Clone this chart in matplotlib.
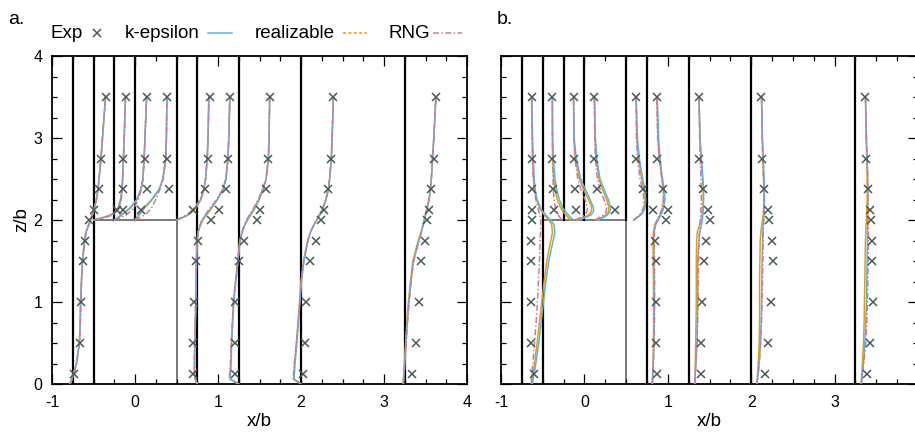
"""
Velocity profiles around a cube-like building: experiment vs three RANS closures
"""

import numpy as np
import matplotlib
matplotlib.use("Agg")
import matplotlib.pyplot as plt
from matplotlib.lines import Line2D
from matplotlib.ticker import MultipleLocator, FixedLocator


# DATA
# ──────────────────────────────────────────────────────────────
# profile stations x/b (same in both panels), and whether the profile sits on the roof
BASES = [-0.75, -0.5, -0.25, 0.0, 0.5, 0.75, 1.25, 2.0, 3.25]
ON_ROOF = [False, True, True, True, True, False, False, False, False]
LINE_FROM = [0, 0, 2, 2, 2, 0, 0, 0, 0]   # where the station line starts (z/b)

EXP_Z = [0.125, 0.5, 1.0, 1.5, 1.75, 2.0, 2.125, 2.375, 2.75, 3.5]
EXP_Z_ROOF = [2.125, 2.375, 2.75, 3.5]
CURVE_Z = [0, 0.06, 0.125, 0.25, 0.5, 0.75, 1.0, 1.25, 1.5, 1.75, 1.85, 1.95,
           2.0, 2.06, 2.125, 2.25, 2.375, 2.5, 2.75, 3.0, 3.5]
CURVE_Z_ROOF = [2.0, 2.03, 2.06, 2.1, 2.15, 2.25, 2.375, 2.5, 2.75, 3.0, 3.5]

X_TICKS_A = [-1, 0, 1, 2, 3, 4]
X_TICKS_B = [-1, 0, 1, 2, 3]     # the "4" of panel b falls off the picture

# values are offsets from the station line, one row per station
A_EXP = [
    [0.013, 0.093, 0.102, 0.121, 0.145, 0.193, 0.254, 0.322, 0.343, 0.395],
    [0.28, 0.35, 0.36, 0.389],
    [0.11, 0.396, 0.367, 0.39],
    [0.07, 0.41, 0.382, 0.382],
    [0.201, 0.341, 0.377, 0.398],
    [-0.048, -0.048, -0.041, -0.02, 0.007, 0.169, 0.26, 0.341, 0.373, 0.393],
    [-0.048, -0.048, -0.048, 0.0, 0.06, 0.22, 0.261, 0.333, 0.357, 0.373],
    [0.028, 0.048, 0.06, 0.11, 0.18, 0.24, 0.28, 0.33, 0.36, 0.39],
    [0.092, 0.133, 0.172, 0.2, 0.245, 0.272, 0.293, 0.32, 0.353, 0.38],
]
A_KEPS = [
    [-0.036, -0.010, 0.010, 0.045, 0.081, 0.090, 0.095, 0.105, 0.117, 0.142, 0.160,
     0.195, 0.214, 0.235, 0.255, 0.286, 0.305, 0.316, 0.340, 0.358, 0.395],
    [0.0, 0.12, 0.21, 0.27, 0.30, 0.33, 0.345, 0.35, 0.36, 0.37, 0.385],
    [0.0, 0.04, 0.08, 0.13, 0.19, 0.27, 0.32, 0.345, 0.36, 0.37, 0.39],
    [0.0, 0.02, 0.04, 0.07, 0.11, 0.20, 0.29, 0.335, 0.37, 0.378, 0.385],
    [0.0, 0.07, 0.13, 0.18, 0.23, 0.29, 0.33, 0.35, 0.37, 0.38, 0.39],
    [0.0, -0.020, -0.032, -0.032, -0.028, -0.022, -0.016, -0.012, -0.008, 0.0, 0.010,
     0.040, 0.060, 0.100, 0.150, 0.240, 0.310, 0.345, 0.370, 0.380, 0.393],
    [0.0, -0.100, -0.100, -0.092, -0.085, -0.072, -0.060, -0.035, -0.008, 0.015, 0.040,
     0.075, 0.100, 0.135, 0.175, 0.240, 0.290, 0.330, 0.357, 0.365, 0.373],
    [0.0, -0.084, -0.080, -0.072, -0.050, -0.030, -0.012, 0.005, 0.035, 0.085, 0.115,
     0.160, 0.190, 0.220, 0.255, 0.300, 0.330, 0.345, 0.365, 0.375, 0.390],
    [-0.016, -0.012, -0.008, 0.0, 0.015, 0.030, 0.050, 0.075, 0.105, 0.170, 0.200,
     0.225, 0.235, 0.250, 0.265, 0.293, 0.310, 0.320, 0.335, 0.350, 0.375],
]
A_REAL = [
    [-0.036, -0.012, 0.008, 0.043, 0.079, 0.089, 0.094, 0.104, 0.116, 0.140, 0.158,
     0.192, 0.212, 0.233, 0.254, 0.285, 0.304, 0.316, 0.340, 0.358, 0.395],
    [0.0, 0.11, 0.20, 0.26, 0.295, 0.325, 0.342, 0.35, 0.36, 0.37, 0.385],
    [0.0, 0.05, 0.09, 0.14, 0.20, 0.275, 0.322, 0.345, 0.36, 0.37, 0.39],
    [0.0, 0.03, 0.05, 0.08, 0.12, 0.21, 0.295, 0.337, 0.37, 0.378, 0.385],
    [0.0, 0.08, 0.14, 0.19, 0.24, 0.295, 0.332, 0.35, 0.37, 0.38, 0.39],
    [0.0, -0.022, -0.034, -0.034, -0.030, -0.024, -0.018, -0.014, -0.010, -0.002, 0.008,
     0.045, 0.068, 0.110, 0.160, 0.245, 0.312, 0.346, 0.370, 0.380, 0.393],
    [0.0, -0.104, -0.104, -0.096, -0.088, -0.076, -0.064, -0.040, -0.012, 0.012, 0.040,
     0.080, 0.108, 0.145, 0.185, 0.248, 0.294, 0.331, 0.357, 0.365, 0.373],
    [0.0, -0.090, -0.086, -0.078, -0.056, -0.036, -0.018, 0.0, 0.030, 0.080, 0.112,
     0.160, 0.192, 0.225, 0.260, 0.303, 0.331, 0.345, 0.365, 0.375, 0.390],
    [-0.020, -0.016, -0.012, -0.004, 0.010, 0.025, 0.044, 0.068, 0.098, 0.162, 0.195,
     0.222, 0.233, 0.249, 0.264, 0.292, 0.309, 0.320, 0.335, 0.350, 0.375],
]
A_RNG = [
    [-0.036, -0.008, 0.012, 0.047, 0.083, 0.092, 0.097, 0.107, 0.120, 0.146, 0.165,
     0.200, 0.218, 0.238, 0.257, 0.287, 0.305, 0.317, 0.341, 0.358, 0.395],
    [0.0, 0.14, 0.23, 0.28, 0.31, 0.335, 0.347, 0.352, 0.36, 0.37, 0.385],
    [0.0, 0.08, 0.14, 0.19, 0.24, 0.29, 0.327, 0.347, 0.36, 0.37, 0.39],
    [0.0, 0.06, 0.11, 0.16, 0.20, 0.25, 0.30, 0.34, 0.37, 0.378, 0.385],
    [0.0, 0.06, 0.12, 0.17, 0.22, 0.285, 0.328, 0.35, 0.37, 0.38, 0.39],
    [0.0, -0.026, -0.036, -0.036, -0.032, -0.026, -0.020, -0.016, -0.010, 0.0, 0.012,
     0.038, 0.055, 0.092, 0.140, 0.235, 0.306, 0.344, 0.370, 0.380, 0.393],
    [0.0, -0.112, -0.110, -0.100, -0.090, -0.078, -0.065, -0.040, -0.010, 0.015, 0.038,
     0.070, 0.094, 0.128, 0.168, 0.235, 0.287, 0.329, 0.357, 0.365, 0.373],
    [0.0, -0.095, -0.090, -0.080, -0.055, -0.034, -0.015, 0.003, 0.034, 0.083, 0.113,
     0.158, 0.188, 0.218, 0.252, 0.298, 0.329, 0.344, 0.365, 0.375, 0.390],
    [-0.016, -0.012, -0.008, 0.002, 0.018, 0.034, 0.054, 0.078, 0.108, 0.172, 0.202,
     0.226, 0.236, 0.251, 0.266, 0.294, 0.311, 0.321, 0.336, 0.351, 0.375],
]

B_EXP = [
    [0.148, 0.104, 0.108, 0.108, 0.108, 0.116, 0.120, 0.120, 0.116, 0.116],
    [0.140, 0.128, 0.116, 0.116],
    [0.152, 0.132, 0.120, 0.120],
    [0.367, 0.156, 0.120, 0.120],
    [0.319, 0.199, 0.116, 0.120],
    [0.116, 0.108, 0.104, 0.108, 0.096, 0.227, 0.255, 0.195, 0.116, 0.116],
    [0.152, 0.152, 0.163, 0.183, 0.211, 0.251, 0.235, 0.171, 0.120, 0.124],
    [0.167, 0.199, 0.243, 0.259, 0.247, 0.219, 0.203, 0.156, 0.128, 0.120],
    [0.144, 0.179, 0.211, 0.203, 0.199, 0.183, 0.179, 0.152, 0.128, 0.120],
]
B_KEPS = [
    [0.124, 0.136, 0.148, 0.167, 0.203, 0.231, 0.259, 0.287, 0.323, 0.375, 0.395,
     0.383, 0.343, 0.287, 0.235, 0.183, 0.159, 0.148, 0.136, 0.128, 0.120],
    [0.367, 0.335, 0.307, 0.275, 0.239, 0.199, 0.167, 0.148, 0.128, 0.120, 0.116],
    [0.179, 0.259, 0.327, 0.359, 0.359, 0.319, 0.259, 0.207, 0.152, 0.128, 0.120],
    [0.167, 0.227, 0.275, 0.307, 0.315, 0.287, 0.235, 0.187, 0.148, 0.132, 0.120],
    [0.096, 0.136, 0.175, 0.207, 0.227, 0.235, 0.227, 0.199, 0.159, 0.136, 0.120],
    [0.064, 0.068, 0.072, 0.076, 0.084, 0.088, 0.088, 0.088, 0.084, 0.080, 0.084,
     0.108, 0.136, 0.167, 0.195, 0.215, 0.207, 0.187, 0.156, 0.140, 0.124],
    [0.072, 0.076, 0.080, 0.088, 0.100, 0.104, 0.108, 0.108, 0.108, 0.124, 0.136,
     0.156, 0.163, 0.171, 0.175, 0.179, 0.179, 0.171, 0.152, 0.136, 0.124],
    [0.068, 0.076, 0.084, 0.096, 0.112, 0.120, 0.124, 0.128, 0.132, 0.136, 0.140,
     0.144, 0.148, 0.152, 0.156, 0.159, 0.159, 0.156, 0.144, 0.136, 0.124],
    [0.068, 0.076, 0.084, 0.096, 0.112, 0.124, 0.132, 0.136, 0.140, 0.144, 0.144,
     0.148, 0.148, 0.148, 0.148, 0.148, 0.148, 0.148, 0.140, 0.132, 0.120],
]
B_REAL = [
    [0.116, 0.124, 0.132, 0.152, 0.183, 0.211, 0.239, 0.267, 0.299, 0.347, 0.367,
     0.355, 0.323, 0.271, 0.223, 0.175, 0.152, 0.140, 0.128, 0.124, 0.116],
    [0.335, 0.307, 0.279, 0.247, 0.215, 0.175, 0.148, 0.132, 0.120, 0.116, 0.116],
    [0.159, 0.239, 0.299, 0.331, 0.339, 0.299, 0.239, 0.191, 0.140, 0.124, 0.120],
    [0.148, 0.207, 0.255, 0.287, 0.295, 0.267, 0.215, 0.175, 0.140, 0.128, 0.120],
    [0.088, 0.128, 0.167, 0.199, 0.219, 0.227, 0.215, 0.187, 0.148, 0.128, 0.120],
    [0.064, 0.066, 0.068, 0.072, 0.078, 0.080, 0.080, 0.078, 0.076, 0.072, 0.076,
     0.096, 0.124, 0.156, 0.183, 0.203, 0.195, 0.179, 0.148, 0.132, 0.120],
    [0.072, 0.076, 0.076, 0.080, 0.084, 0.088, 0.092, 0.092, 0.092, 0.096, 0.104,
     0.132, 0.148, 0.159, 0.167, 0.175, 0.175, 0.167, 0.148, 0.136, 0.124],
    [0.068, 0.072, 0.076, 0.084, 0.096, 0.100, 0.100, 0.100, 0.104, 0.108, 0.116,
     0.128, 0.136, 0.144, 0.148, 0.152, 0.152, 0.148, 0.140, 0.132, 0.124],
    [0.068, 0.072, 0.076, 0.084, 0.096, 0.104, 0.108, 0.112, 0.116, 0.120, 0.124,
     0.128, 0.132, 0.136, 0.136, 0.140, 0.140, 0.140, 0.136, 0.128, 0.120],
]
B_RNG = [
    [0.112, 0.116, 0.120, 0.132, 0.152, 0.171, 0.187, 0.199, 0.211, 0.219, 0.223,
     0.227, 0.227, 0.215, 0.199, 0.167, 0.148, 0.136, 0.128, 0.124, 0.116],
    [0.227, 0.207, 0.187, 0.167, 0.152, 0.136, 0.128, 0.124, 0.120, 0.116, 0.116],
    [0.140, 0.199, 0.247, 0.279, 0.287, 0.259, 0.207, 0.171, 0.136, 0.124, 0.120],
    [0.128, 0.179, 0.227, 0.259, 0.267, 0.235, 0.187, 0.155, 0.132, 0.124, 0.120],
    [0.088, 0.128, 0.159, 0.187, 0.207, 0.215, 0.199, 0.167, 0.136, 0.124, 0.120],
    [0.064, 0.068, 0.072, 0.078, 0.086, 0.090, 0.092, 0.092, 0.090, 0.088, 0.090,
     0.100, 0.124, 0.148, 0.175, 0.195, 0.195, 0.179, 0.148, 0.128, 0.116],
    [0.072, 0.076, 0.080, 0.088, 0.100, 0.108, 0.112, 0.116, 0.120, 0.124, 0.128,
     0.136, 0.140, 0.144, 0.148, 0.152, 0.152, 0.148, 0.140, 0.132, 0.124],
    [0.068, 0.076, 0.084, 0.096, 0.112, 0.124, 0.132, 0.136, 0.140, 0.144, 0.144,
     0.148, 0.148, 0.148, 0.152, 0.152, 0.152, 0.148, 0.140, 0.132, 0.124],
    [0.068, 0.076, 0.084, 0.100, 0.124, 0.136, 0.144, 0.148, 0.152, 0.156, 0.156,
     0.156, 0.156, 0.156, 0.156, 0.152, 0.152, 0.148, 0.140, 0.132, 0.120],
]

# ESTILO
# ──────────────────────────────────────────────────────────────
C_EXP = "#485a52"
C_KEPS = "#56B4E9"
C_REAL = "#E69F00"
C_RNG = "#CC79A7"
LS_REAL_KEY = (0, (2.0, 1.5))       # dotted sample in the key
LS_RNG = (0, (4.0, 1.5, 1.0, 1.5))

plt.rcParams["font.family"] = ["Liberation Sans", "DejaVu Sans"]
plt.rcParams["axes.unicode_minus"] = False


def preparar_eixo(ax, xticks, ylabels=True):
    ax.set_xlim(-1, 4)
    ax.set_ylim(0, 4)
    ax.xaxis.set_major_locator(FixedLocator(xticks))
    ax.xaxis.set_minor_locator(MultipleLocator(0.25))
    ax.yaxis.set_major_locator(MultipleLocator(1))
    ax.yaxis.set_minor_locator(MultipleLocator(0.25))
    ax.tick_params(which="both", direction="in", top=True, right=True,
                   width=0.9, labelsize=11.5)
    ax.tick_params(which="major", length=7)
    ax.tick_params(which="minor", length=3.5)
    ax.tick_params(axis="x", pad=8)
    ax.tick_params(axis="y", pad=7, labelleft=ylabels)
    for sp in ax.spines.values():
        sp.set_linewidth(1.3)


def desenhar_painel(ax, exp, keps, real, rng):
    # building outline
    ax.plot([-0.5, -0.5, 0.5, 0.5], [0, 2, 2, 0], color="#555555", lw=1.1, zorder=1)
    for i, base in enumerate(BASES):
        ax.plot([base, base], [LINE_FROM[i], 4], color="black", lw=1.6, zorder=2)
        zc = CURVE_Z_ROOF if ON_ROOF[i] else CURVE_Z
        ze = EXP_Z_ROOF if ON_ROOF[i] else EXP_Z
        ax.plot(base + np.array(real[i]), zc, color=C_REAL, lw=1.1, zorder=3)
        ax.plot(base + np.array(keps[i]), zc, color=C_KEPS, lw=1.1, zorder=4)
        ax.plot(base + np.array(rng[i]), zc, color=C_RNG, lw=1.1, ls=LS_RNG, zorder=5)
        ax.plot(base + np.array(exp[i]), ze, ls="none", marker="x", ms=5.5, mew=1.1,
                color=C_EXP, zorder=6)


fig = plt.figure(figsize=(9.15, 4.33), dpi=100)
W, H = 915.0, 433.0

ax_a = fig.add_axes([52 / W, (H - 384) / H, 415 / W, 328 / H])
ax_b = fig.add_axes([501 / W, (H - 384) / H, 417 / W, 328 / H])

preparar_eixo(ax_a, X_TICKS_A, ylabels=True)
preparar_eixo(ax_b, X_TICKS_B, ylabels=False)
desenhar_painel(ax_a, A_EXP, A_KEPS, A_REAL, A_RNG)
desenhar_painel(ax_b, B_EXP, B_KEPS, B_REAL, B_RNG)

# labels
fig.text(259.5 / W, 1 - 422 / H, "x/b", ha="center", va="center", fontsize=13.5)
fig.text(709 / W, 1 - 422 / H, "x/b", ha="center", va="center", fontsize=13.5)
fig.text(22 / W, 1 - 220 / H, "z/b", ha="center", va="center", rotation=90, fontsize=13.5)
fig.text(8 / W, 1 - 19 / H, "a.", ha="left", va="center", fontsize=14)
fig.text(497 / W, 1 - 19 / H, "b.", ha="left", va="center", fontsize=14)

# legend, gnuplot style (label then sample)
ly = 1 - 33 / H
fig.text(83 / W, ly, "Exp", ha="right", va="center", fontsize=13.5)
fig.add_artist(Line2D([97 / W], [ly], transform=fig.transFigure, ls="none",
                      marker="x", ms=5.5, mew=1.1, color=C_EXP))
fig.text(200 / W, ly, "k-epsilon", ha="right", va="center", fontsize=13.5)
fig.add_artist(Line2D([208 / W, 232 / W], [ly, ly], transform=fig.transFigure,
                      color=C_KEPS, lw=1.1))
fig.text(335 / W, ly, "realizable", ha="right", va="center", fontsize=13.5)
fig.add_artist(Line2D([343 / W, 367 / W], [ly, ly], transform=fig.transFigure,
                      color=C_REAL, lw=1.1, ls=LS_REAL_KEY))
fig.text(430 / W, ly, "RNG", ha="right", va="center", fontsize=13.5)
fig.add_artist(Line2D([433 / W, 462 / W], [ly, ly], transform=fig.transFigure,
                      color=C_RNG, lw=1.1, ls=LS_RNG))

fig.savefig("out.png", dpi=100)
plt.close(fig)
